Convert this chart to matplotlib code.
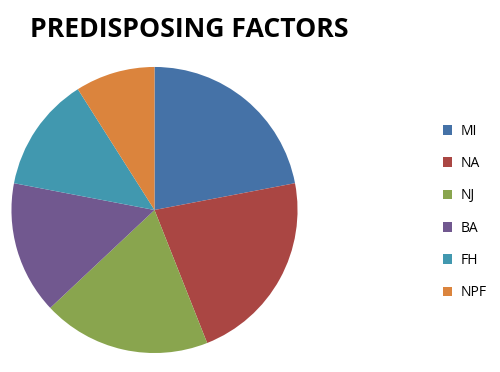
import matplotlib.pyplot as plt
from matplotlib.patches import Patch

# Данные
labels = ['MI', 'NA', 'NJ', 'BA', 'FH', 'NPF']
values = [22, 22, 19, 15, 13, 9]
colors = ['#4572A7', '#AA4643', '#89A54E', '#71588F', '#4198AF', '#DB843D']

fig = plt.figure(figsize=(5, 3.72), dpi=100)
ax = fig.add_axes([0.022, 0.051, 0.574, 0.769])
ax.pie(values, colors=colors, startangle=90, counterclock=False,
       wedgeprops={'linewidth': 0})
ax.set_xlim(-1, 1)
ax.set_ylim(-1, 1)
ax.set_aspect('equal')

fig.text(0.06, 0.92, 'PREDISPOSING FACTORS', fontsize=19.2, fontweight='bold',
         family='Open Sans', va='center', ha='left')

handles = [Patch(facecolor=c, edgecolor='none') for c in colors]
fig.legend(handles, labels, loc='center left', bbox_to_anchor=(0.86, 0.43),
           frameon=False, labelspacing=1.25,
           handlelength=0.7, handleheight=0.7, handletextpad=0.6,
           prop={'family': 'Open Sans', 'size': 10})

fig.savefig('out.png', dpi=100)
